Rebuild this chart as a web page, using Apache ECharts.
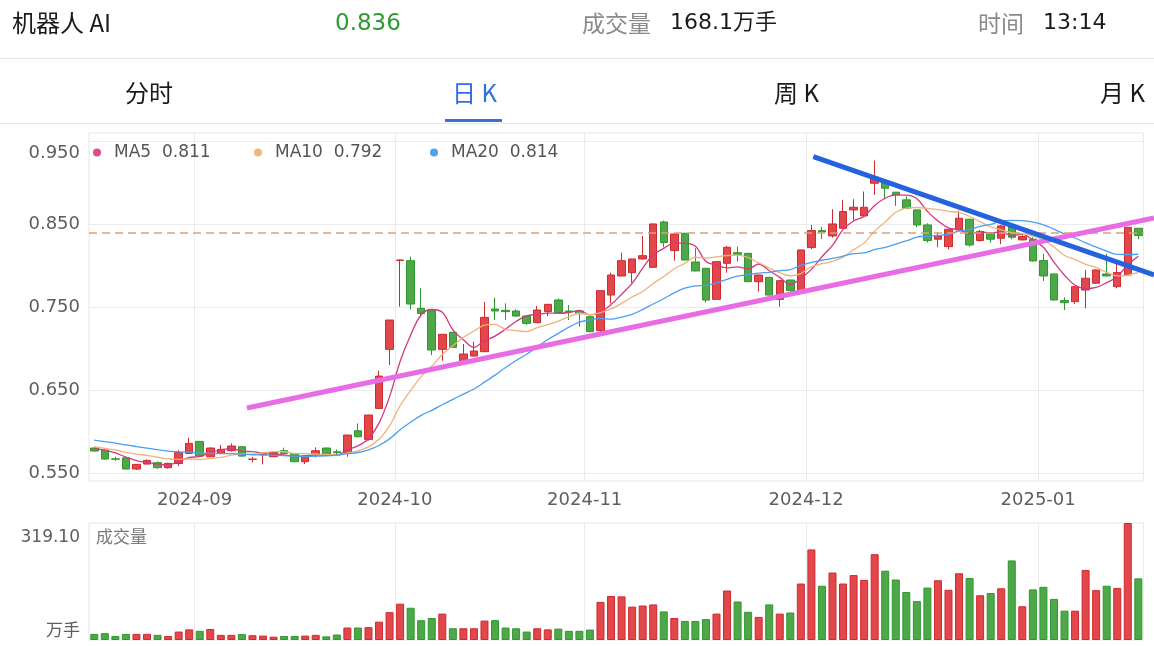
<!DOCTYPE html>
<html><head><meta charset="utf-8">
<script src="https://cdn.jsdelivr.net/npm/echarts@6/dist/echarts.min.js"></script>
<style>
html,body{margin:0;padding:0;background:#fff;width:1154px;height:646px;overflow:hidden;}
#chart{position:absolute;left:0;top:0;width:1154px;height:646px;}
.h{position:absolute;white-space:nowrap;line-height:1;transform:translateY(-50%);font-family:"DejaVu Sans","Noto Sans CJK SC",sans-serif;color:#1a1a1a;}
.cjk{font-family:"Noto Sans CJK SC",sans-serif;}
.sep{position:absolute;left:0;width:1154px;height:1px;background:#e8e8e8;}
</style></head>
<body>
<div id="chart"></div>
<div id="hdr"></div>
<script>
// ---- data ----
const stockName = '机器人 AI';
const timeText = '13:14';
const tabs = ['分时', '日 K', '周 K', '月 K'];
const activeTab = 1;

const dates = [
'2024-08-19','2024-08-20','2024-08-21','2024-08-22','2024-08-23','2024-08-26','2024-08-27','2024-08-28','2024-08-29','2024-08-30',
'2024-09-02','2024-09-03','2024-09-04','2024-09-05','2024-09-06','2024-09-09','2024-09-10','2024-09-11','2024-09-12','2024-09-13',
'2024-09-18','2024-09-19','2024-09-20','2024-09-23','2024-09-24','2024-09-25','2024-09-26','2024-09-27','2024-09-30',
'2024-10-08','2024-10-09','2024-10-10','2024-10-11','2024-10-14','2024-10-15','2024-10-16','2024-10-17','2024-10-18','2024-10-21',
'2024-10-22','2024-10-23','2024-10-24','2024-10-25','2024-10-28','2024-10-29','2024-10-30','2024-10-31',
'2024-11-01','2024-11-04','2024-11-05','2024-11-06','2024-11-07','2024-11-08','2024-11-11','2024-11-12','2024-11-13','2024-11-14',
'2024-11-15','2024-11-18','2024-11-19','2024-11-20','2024-11-21','2024-11-22','2024-11-25','2024-11-26','2024-11-27','2024-11-28','2024-11-29',
'2024-12-02','2024-12-03','2024-12-04','2024-12-05','2024-12-06','2024-12-09','2024-12-10','2024-12-11','2024-12-12','2024-12-13',
'2024-12-16','2024-12-17','2024-12-18','2024-12-19','2024-12-20','2024-12-23','2024-12-24','2024-12-25','2024-12-26','2024-12-27',
'2024-12-30','2024-12-31',
'2025-01-02','2025-01-03','2025-01-06','2025-01-07','2025-01-08','2025-01-09','2025-01-10','2025-01-13','2025-01-14','2025-01-15'
];

const opens = [
0.5802,0.5778,0.5672,0.5685,0.5549,0.5609,0.5625,0.5565,0.5617,0.5737,
0.5882,0.5697,0.5737,0.5770,0.5818,0.5665,0.5725,0.5697,0.5770,0.5737,
0.5637,0.5729,0.5802,0.5757,0.5745,0.6010,0.5906,0.6279,0.6990,0.8060,
0.8058,0.7484,0.7456,0.6990,0.7195,0.6841,0.6909,0.6962,0.7476,0.7460,
0.7452,0.7391,0.7311,0.7444,0.7584,0.7452,0.7452,0.7383,0.7215,0.7644,
0.7873,0.7913,0.8078,0.7978,0.8524,0.8179,0.8387,0.8042,0.7966,0.7592,
0.8026,0.8154,0.8146,0.7805,0.7857,0.7592,0.7825,0.7697,0.8215,0.8420,
0.8356,0.8448,0.8669,0.8597,0.8990,0.8998,0.8882,0.8790,0.8669,0.8488,
0.8316,0.8227,0.8428,0.8557,0.8300,0.8388,0.8328,0.8468,0.8308,0.8316,
0.8059,0.7898,0.7577,0.7565,0.7705,0.7786,0.7898,0.7745,0.7886,0.8448
];
const closes = [
0.5766,0.5669,0.5667,0.5549,0.5605,0.5653,0.5565,0.5617,0.5749,0.5858,
0.5705,0.5802,0.5786,0.5826,0.5705,0.5669,0.5729,0.5749,0.5737,0.5637,
0.5697,0.5769,0.5729,0.5745,0.5958,0.5938,0.6199,0.6668,0.7343,0.8066,
0.7536,0.7423,0.6982,0.7171,0.7014,0.6934,0.6970,0.7375,0.7452,0.7444,
0.7391,0.7303,0.7464,0.7532,0.7432,0.7440,0.7420,0.7203,0.7697,0.7885,
0.8058,0.8078,0.8118,0.8500,0.8275,0.8379,0.8066,0.7934,0.7584,0.8046,
0.8219,0.8134,0.7805,0.7885,0.7644,0.7817,0.7697,0.8187,0.8420,0.8404,
0.8500,0.8649,0.8701,0.8701,0.9063,0.8930,0.8850,0.8689,0.8488,0.8300,
0.8356,0.8436,0.8569,0.8247,0.8408,0.8316,0.8476,0.8340,0.8348,0.8055,
0.7874,0.7585,0.7553,0.7745,0.7846,0.7946,0.7874,0.7914,0.8460,0.8360
];
const highs = [
0.5810,0.5786,0.5697,0.5693,0.5605,0.5665,0.5641,0.5625,0.5777,0.5926,
0.5882,0.5810,0.5838,0.5858,0.5818,0.5697,0.5737,0.5757,0.5806,0.5741,
0.5701,0.5810,0.5806,0.5786,0.5962,0.6098,0.6203,0.6733,0.7343,0.8070,
0.8106,0.7725,0.7460,0.7175,0.7199,0.7054,0.7082,0.7560,0.7612,0.7544,
0.7472,0.7399,0.7512,0.7536,0.7604,0.7524,0.7464,0.7391,0.7700,0.7913,
0.8154,0.8082,0.8355,0.8504,0.8540,0.8383,0.8395,0.8207,0.7970,0.8050,
0.8235,0.8227,0.8150,0.7889,0.7861,0.7821,0.7829,0.8191,0.8488,0.8464,
0.8677,0.8790,0.8798,0.8890,0.9263,0.9010,0.8886,0.8830,0.8673,0.8508,
0.8396,0.8448,0.8661,0.8561,0.8428,0.8392,0.8488,0.8472,0.8380,0.8340,
0.8139,0.7902,0.7617,0.7749,0.7946,0.7950,0.8139,0.8026,0.8464,0.8452
];
const lows = [
0.5757,0.5661,0.5649,0.5549,0.5537,0.5605,0.5553,0.5553,0.5585,0.5729,
0.5701,0.5693,0.5729,0.5758,0.5697,0.5629,0.5605,0.5693,0.5733,0.5633,
0.5609,0.5689,0.5725,0.5717,0.5697,0.5930,0.5890,0.6279,0.6801,0.7504,
0.7472,0.7375,0.6922,0.6853,0.7010,0.6841,0.6905,0.6962,0.7343,0.7343,
0.7383,0.7283,0.7307,0.7391,0.7428,0.7343,0.7263,0.7195,0.7195,0.7544,
0.7873,0.7793,0.8074,0.7974,0.8219,0.8058,0.8062,0.7930,0.7552,0.7588,
0.7913,0.8046,0.7801,0.7685,0.7640,0.7504,0.7685,0.7693,0.8195,0.8320,
0.8335,0.8444,0.8541,0.8593,0.8850,0.8810,0.8717,0.8677,0.8460,0.8276,
0.8219,0.8195,0.8424,0.8227,0.8288,0.8276,0.8256,0.8316,0.8300,0.8046,
0.7814,0.7577,0.7464,0.7537,0.7484,0.7782,0.7866,0.7725,0.7882,0.8316
];
// volume, 万手
const volumes = [
16.7,18.6,11,16.7,16.7,16.7,14,11,23,29,
25,30,14,14,16,13,12,9,11,11,
12,14,10,15,34,34,35,50,76,99,
88,54,60,72,32,32,32,53,54,34,
32,23,32,29,31,25,25,28.5,104,120,
119,91,94,97,78,60,52,52,57,72,
135,105,77,63,97,72,75,154,247,148,
184,154,177,164,234,189,165,131,106,143,
163,137,182,169,122,128,141,217,92,138,
145,112,80,80,191,136,148,142,319.1,168.1
];
// closes of the 19 sessions before the first visible one (estimated from where the MA lines start)
const earlierCloses = [0.605,0.602,0.600,0.598,0.601,0.597,0.595,0.596,0.592,0.592,
  0.588,0.585,0.583,0.582,0.581,0.579,0.582,0.580,0.5814];

const priceTicks = [0.55, 0.65, 0.75, 0.85, 0.95];
const priceMin = 0.5405, priceMax = 0.9595;
const maPeriods = [5, 10, 20];
const maNames = ['MA5', 'MA10', 'MA20'];
const maColors = ['#d4387f', '#f0b27a', '#4b9ff0'];
const maDotColors = ['#dc4e8e', '#f2b57e', '#4ea2f0'];

// hand-drawn trend lines: anchor points (date, price)
const trendLines = [
  { color: '#e86ce6', from: ['2024-09-09', 0.6297], to: ['2025-01-15', 0.8532], extendLeft: 0.52 },
  { color: '#2563de', from: ['2024-12-03', 0.9275], to: ['2025-01-15', 0.7952], extendLeft: 0.82 }
];

const RED = '#e1474b', RED_B = '#cf2a2f', GREEN = '#4ea84a', GREEN_B = '#2e982e';

// ---- header ----
const lastClose = closes[closes.length - 1];
const lastVol = volumes[volumes.length - 1];
const hdr = document.getElementById('hdr');
function addText(txt, left, cy, size, color, cls) {
  const d = document.createElement('div');
  d.className = 'h' + (cls ? ' ' + cls : '');
  d.style.left = left + 'px'; d.style.top = cy + 'px';
  d.style.fontSize = size + 'px'; d.style.color = color;
  d.textContent = txt; hdr.appendChild(d);
}
addText(stockName, 12, 22, 24, '#1a1a1a', 'cjk');
addText(lastClose.toFixed(3), 335, 22, 23, '#2f9a2f');
addText('成交量', 582, 22, 23, '#8a8a8a', 'cjk');
addText(lastVol.toFixed(1) + '万手', 670, 22, 22, '#1a1a1a');
addText('时间', 978, 22, 23, '#8a8a8a', 'cjk');
addText(timeText, 1043, 22, 22, '#1a1a1a');
const tabLeft = [125, 452, 774, 1100];
tabs.forEach((t, i) => addText(t, tabLeft[i], 92, 24, i === activeTab ? '#2f6fe0' : '#1a1a1a', 'cjk'));
['58', '123'].forEach(y => { const s = document.createElement('div'); s.className = 'sep'; s.style.top = y + 'px'; hdr.appendChild(s); });
const ul = document.createElement('div');
ul.style.cssText = 'position:absolute;left:445px;top:119px;width:57px;height:3px;background:#3a6fd9;';
hdr.appendChild(ul);

// ---- derived ----
const allCloses = earlierCloses.concat(closes);
const off = earlierCloses.length;
function ma(n) {
  return closes.map((c, i) => {
    let s = 0; for (let j = 0; j < n; j++) s += allCloses[off + i - j];
    return +(s / n).toFixed(4);
  });
}
const maData = maPeriods.map(ma);
const candleData = dates.map((d, i) => [opens[i], closes[i], lows[i], highs[i]]);
const volData = volumes.map((v, i) => ({
  value: v,
  itemStyle: closes[i] >= opens[i] ? { color: RED, borderColor: RED_B } : { color: GREEN, borderColor: GREEN_B }
}));
const maxVol = Math.max(...volumes);
const isMonthStart = (idx) => idx > 0 && dates[idx].slice(0, 7) !== dates[idx - 1].slice(0, 7);

const labelFont = 'DejaVu Sans';
const gridW = 1054.6;

const option = {
  animation: false,
  backgroundColor: 'transparent',
  title: { text: '成交量', left: 96, top: 528, padding: 0,
    textStyle: { fontSize: 17, color: '#7a7a7a', fontWeight: 'normal', fontFamily: 'Noto Sans CJK SC' } },
  legend: maNames.map((n, i) => ({
    data: [{ name: n, icon: 'circle', itemStyle: { color: maDotColors[i] } }],
    left: [93, 254, 430][i], top: 144, padding: 0,
    itemWidth: 24, itemHeight: 8, selectedMode: false,
    formatter: name => name + '  ' + maData[i][maData[i].length - 1].toFixed(3),
    textStyle: { fontSize: 17, color: '#555', fontFamily: labelFont }
  })),
  grid: [
    { left: 89, width: gridW, top: 133, height: 348, show: true, borderColor: '#e6e6e6', borderWidth: 1 },
    { left: 89, width: gridW, top: 523, height: 117, show: true, borderColor: '#e6e6e6', borderWidth: 1 }
  ],
  xAxis: [
    { type: 'category', gridIndex: 0, data: dates, boundaryGap: true,
      axisLine: { show: false }, axisTick: { show: false },
      axisLabel: { interval: isMonthStart, margin: 10,
        formatter: v => '{a|' + v.slice(0, 7) + '}',
        rich: { a: { padding: [0, 10.5, 0, 0], fontSize: 18, color: '#5e5e5e', fontFamily: labelFont } } },
      splitLine: { show: true, interval: isMonthStart, lineStyle: { color: '#ebebeb', width: 1 } } },
    { type: 'category', gridIndex: 1, data: dates, boundaryGap: true,
      axisLine: { show: false }, axisTick: { show: false }, axisLabel: { show: false },
      splitLine: { show: true, interval: isMonthStart, lineStyle: { color: '#ebebeb', width: 1 } } }
  ],
  yAxis: [
    { type: 'value', gridIndex: 0, min: priceMin, max: priceMax,
      axisLine: { show: false }, axisTick: { show: false, customValues: priceTicks },
      axisLabel: { customValues: priceTicks, margin: 9,
        formatter: v => (Math.abs(v - priceTicks[priceTicks.length - 1]) < 1e-6 ? '{t|' : '{n|') + v.toFixed(3) + '}',
        rich: {
          t: { padding: [24, 0, 0, 0], fontSize: 18, color: '#5e5e5e', fontFamily: labelFont },
          n: { fontSize: 18, color: '#5e5e5e', fontFamily: labelFont }
        } },
      splitLine: { show: true, lineStyle: { color: '#ebebeb', width: 1 } } },
    { type: 'value', gridIndex: 1, min: 0, max: maxVol,
      axisLine: { show: false }, axisTick: { show: false, customValues: [0, maxVol] },
      axisLabel: { customValues: [0, maxVol], margin: 9,
        formatter: v => v === 0 ? '{b|万手}' : '{t|' + v.toFixed(2) + '}',
        rich: {
          t: { padding: [29, 0, 0, 0], fontSize: 17, color: '#5e5e5e', fontFamily: labelFont },
          b: { padding: [0, 0, 20, 0], fontSize: 17, color: '#5e5e5e', fontFamily: 'Noto Sans CJK SC' }
        } },
      splitLine: { show: false } }
  ],
  series: [
    { type: 'candlestick', name: 'K', xAxisIndex: 0, yAxisIndex: 0, data: candleData, barWidth: 8,
      itemStyle: { color: RED, color0: GREEN, borderColor: RED_B, borderColor0: GREEN_B, borderWidth: 1 },
      markLine: { silent: true, symbol: 'none', label: { show: false },
        lineStyle: { color: '#d9a273', type: [8, 5], width: 1.6 },
        data: [{ yAxis: lastClose }] } },
    ...maNames.map((n, i) => ({
      type: 'line', name: n, xAxisIndex: 0, yAxisIndex: 0, data: maData[i],
      showSymbol: false, smooth: 0.35, z: 3,
      lineStyle: { color: maColors[i], width: 1.3 }, itemStyle: { color: maDotColors[i] }
    })),
    { type: 'bar', name: 'VOL', xAxisIndex: 1, yAxisIndex: 1, data: volData, barWidth: 8,
      itemStyle: { borderWidth: 1 } }
  ]
};

const chart = echarts.init(document.getElementById('chart'), null, { renderer: 'canvas' });
chart.setOption(option);

// trend lines, positioned through the chart's own scales
const W = chart.getWidth();
const gfx = trendLines.map(t => {
  const a = chart.convertToPixel({ xAxisIndex: 0, yAxisIndex: 0 }, t.from);
  const b = chart.convertToPixel({ xAxisIndex: 0, yAxisIndex: 0 }, t.to);
  const n = dates.indexOf(t.to[0]) - dates.indexOf(t.from[0]);
  const dx = (b[0] - a[0]) / n, dy = (b[1] - a[1]) / n;
  const x1 = a[0] - dx * t.extendLeft, y1 = a[1] - dy * t.extendLeft;
  const s = (W - a[0]) / (b[0] - a[0]);
  return { type: 'line', z: 100, silent: true,
    shape: { x1: x1, y1: y1, x2: W, y2: a[1] + (b[1] - a[1]) * s },
    style: { stroke: t.color, lineWidth: 5 } };
});
chart.setOption({ graphic: gfx });
</script>
</body></html>
